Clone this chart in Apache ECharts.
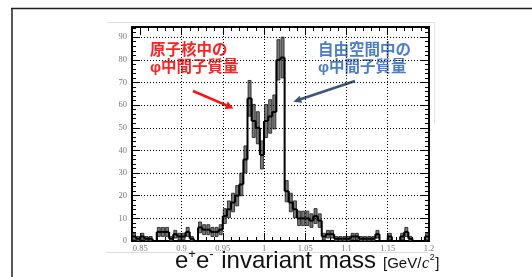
<!DOCTYPE html>
<html>
<head>
<meta charset="utf-8">
<script src="https://cdn.jsdelivr.net/npm/echarts@6/dist/echarts.min.js"></script>
<style>
html, body { margin: 0; padding: 0; background: #fff; }
#chart { width: 532px; height: 277px; }
</style>
</head>
<body>
<div id="chart"></div>
<script>
// histogram bins: lower edge [GeV/c2], width 0.005
const binEdges = [
  0.840, 0.845, 0.850, 0.855, 0.860, 0.865, 0.870, 0.875, 0.880, 0.885,
  0.890, 0.895, 0.900, 0.905, 0.910, 0.915, 0.920, 0.925, 0.930, 0.935,
  0.940, 0.945, 0.950, 0.955, 0.960, 0.965, 0.970, 0.975, 0.980, 0.985,
  0.990, 0.995, 1.000, 1.005, 1.010, 1.015, 1.020, 1.025, 1.030, 1.035,
  1.040, 1.045, 1.050, 1.055, 1.060, 1.065, 1.070, 1.075, 1.080, 1.085,
  1.090, 1.095, 1.100, 1.105, 1.110, 1.115, 1.120, 1.125, 1.130, 1.135,
  1.140, 1.145, 1.150, 1.155, 1.160, 1.165, 1.170, 1.175, 1.180, 1.185,
  1.190, 1.195
]
const binWidth = 0.005

const counts = [
  2, 1, 2, 1, 1, 0, 4, 4, 4, 1,
  3, 2, 2, 4, 1, 0, 6, 5, 5, 4,
  4, 5, 11, 14, 17, 20, 25, 36, 63, 53,
  50, 38, 53, 55, 57, 80, 81, 22, 17, 14,
  10, 10, 10, 9, 11, 9, 2, 3, 3, 1,
  1, 1, 1, 2, 2, 1, 1, 1, 1, 3,
  0, 0, 2, 0, 0, 2, 4, 1, 0, 0,
  0, 2
]

const errors = [
  1.4, 1, 1.4, 1, 1, 0, 2, 2, 2, 1,
  1.7, 1.4, 1.4, 2, 1, 0, 2.4, 2.2, 2.2, 2,
  2, 2.2, 3.3, 3.7, 4.1, 4.5, 5, 6, 7.9, 7.3,
  7.1, 6.2, 7.3, 7.4, 7.5, 8.9, 9, 4.7, 4.1, 3.7,
  3.2, 3.2, 3.2, 3, 3.3, 3, 1.4, 1.7, 1.7, 1,
  1, 1, 1, 1.4, 1.4, 1, 1, 1, 1, 1.7,
  0, 0, 1.4, 0, 0, 1.4, 2, 1, 0, 0,
  0, 1.4
]

const xTicks = [0.85, 0.9, 0.95, 1, 1.05, 1.1, 1.15, 1.2]
const xTickLabels = ['0.85', '0.9', '0.95', '1', '1.05', '1.1', '1.15', '1.2']
const yTicks = [0, 10, 20, 30, 40, 50, 60, 70, 80, 90]
const xGrid = [0.9, 0.95, 1, 1.05, 1.1, 1.15]
const yGrid = [10, 20, 30, 40, 50, 60, 70, 80, 90]

const X_MIN = 0.84, X_MAX = 1.2, Y_MIN = 0, Y_MAX = 94.5

let histData = binEdges.map((lo, i) => [lo, lo + binWidth, counts[i], i > 0 ? counts[i - 1] : counts[i], errors[i]])

function renderBin(params, api) {
   let lo = api.value(0), hi = api.value(1), v = api.value(2), prev = api.value(3), err = api.value(4)
   let pL = api.coord([lo, v])
   let pR = api.coord([hi, v])
   let pPrev = api.coord([lo, prev])
   let mid = (lo + hi) / 2
   let children = []
   if (err > 0) {
      let eTop = api.coord([mid, v + err])
      let eBot = api.coord([mid, Math.max(v - err, 0)])
      children.push({
         type: 'rect',
         shape: { x: eTop[0] - 1.5, y: eTop[1], width: 3, height: eBot[1] - eTop[1] },
         style: { fill: '#777', stroke: '#1a1a1a', lineWidth: 0.8 }
      })
   }
   children.push({
      type: 'line',
      shape: { x1: pL[0], y1: pL[1], x2: pR[0], y2: pR[1] },
      style: { stroke: '#000', lineWidth: 2 }
   })
   if (params.dataIndex > 0) {
      children.push({
         type: 'line',
         shape: { x1: pPrev[0], y1: pPrev[1], x2: pL[0], y2: pL[1] },
         style: { stroke: '#000', lineWidth: 2 }
      })
   }
   return { type: 'group', children: children }
}

const labelFont = { fontFamily: 'Liberation Serif', fontSize: 8.5, color: '#777' }

function minorX(pos) {
   return {
      gridIndex: 0, type: 'value', position: pos, min: X_MIN, max: X_MAX, interval: 0.01,
      axisLine: { show: true, onZero: false, lineStyle: { color: '#000', width: 2 } },
      axisTick: { show: true, inside: true, length: 4, lineStyle: { color: '#000', width: 1 } },
      axisLabel: pos === 'bottom' ? Object.assign({
         show: true, margin: 3,
         formatter: v => {
            let i = xTicks.findIndex(t => Math.abs(t - v) < 1e-6)
            return i < 0 ? '' : xTickLabels[i]
         }
      }, labelFont) : { show: false },
      splitLine: { show: false }
   }
}
function majorX(pos) {
   return {
      gridIndex: 1, type: 'value', position: pos, min: X_MIN, max: X_MAX,
      axisLine: { show: false, onZero: false },
      axisTick: { show: true, inside: true, length: 8, customValues: xTicks, lineStyle: { color: '#000', width: 1 } },
      axisLabel: { show: false },
      splitLine: { show: false }
   }
}
function minorY(pos) {
   return {
      gridIndex: 0, type: 'value', position: pos, min: Y_MIN, max: Y_MAX, interval: 2,
      axisLine: { show: true, onZero: false, lineStyle: { color: '#000', width: 2 } },
      axisTick: { show: true, inside: true, length: 4, lineStyle: { color: '#000', width: 1 } },
      axisLabel: pos === 'left' ? Object.assign({
         show: true, margin: 5,
         formatter: v => yTicks.indexOf(v) >= 0 ? String(v) : ''
      }, labelFont) : { show: false },
      splitLine: { show: false }
   }
}
function majorY(pos) {
   return {
      gridIndex: 1, type: 'value', position: pos, min: Y_MIN, max: Y_MAX,
      axisLine: { show: false, onZero: false },
      axisTick: { show: true, inside: true, length: 8, customValues: yTicks, lineStyle: { color: '#000', width: 1 } },
      axisLabel: { show: false },
      splitLine: { show: false }
   }
}

// x-axis title pieces, laid out left to right on one baseline
const ctx = document.createElement('canvas').getContext('2d')
function textW(font, s) { ctx.font = font; return ctx.measureText(s).width }

const MAIN = '24px "Liberation Sans"'
const SUP = '13px "Liberation Sans"'
const UNIT = '15px "Liberation Sans"'
const CIT = 'italic 16px "Liberation Serif"'
const PW = '9px "Liberation Sans"'
const BASE = 268.5

function titleGraphics() {
   let parts = [
      { s: 'e', font: MAIN, y: BASE - 0.31 * 24 },
      { s: '+', font: SUP, y: 254.5 },
      { s: 'e', font: MAIN, y: BASE - 0.31 * 24 },
      { s: '-', font: SUP, y: 254, pad: 1 },
      { s: ' invariant mass', font: MAIN, y: BASE - 0.31 * 24 }
   ]
   let x = 175
   let out = []
   parts.forEach(p => {
      out.push({ type: 'text', x: x, y: p.y, style: { text: p.s, font: p.font, fill: '#111', align: 'left', verticalAlign: 'middle' } })
      x += textW(p.font, p.s) + (p.pad || 0)
   })
   let units = [
      { s: '[GeV/', font: UNIT, y: BASE - 0.31 * 15 },
      { s: 'c', font: CIT, y: BASE - 0.31 * 16 },
      { s: '2', font: PW, y: 258 },
      { s: ']', font: UNIT, y: BASE - 0.31 * 15 }
   ]
   x = 383
   units.forEach(p => {
      out.push({ type: 'text', x: x, y: p.y, style: { text: p.s, font: p.font, fill: '#111', align: 'left', verticalAlign: 'middle' } })
      x += textW(p.font, p.s) + 0.6
   })
   return out
}

let chart = echarts.init(document.getElementById('chart'), null, { renderer: 'canvas' })

let option = {
   animation: false,
   backgroundColor: '#fff',
   grid: [
      { left: 132, right: 103, top: 27, bottom: 36 },
      { left: 132, right: 103, top: 27, bottom: 36 }
   ],
   xAxis: [minorX('bottom'), minorX('top'), majorX('bottom'), majorX('top')],
   yAxis: [minorY('left'), minorY('right'), majorY('left'), majorY('right')],
   series: [
      {
         // dotted grid
         type: 'line',
         xAxisIndex: 0,
         yAxisIndex: 0,
         data: [],
         z: 1,
         markLine: {
            silent: true,
            symbol: ['none', 'none'],
            label: { show: false },
            lineStyle: { type: [1, 2], color: '#000', width: 1 },
            data: xGrid.map(x => ({ xAxis: x })).concat(yGrid.map(y => ({ yAxis: y })))
         }
      },
      {
         name: 'e+e- invariant mass',
         type: 'custom',
         xAxisIndex: 0,
         yAxisIndex: 0,
         clip: true,
         z: 3,
         renderItem: renderBin,
         encode: { x: [0, 1], y: 2 },
         data: histData
      }
   ],
   graphic: [
      // slide frame
      { type: 'line', shape: { x1: 11, y1: 8.5, x2: 532, y2: 8.5 }, style: { stroke: '#222', lineWidth: 1.5 } },
      { type: 'line', shape: { x1: 12, y1: 8, x2: 12, y2: 277 }, style: { stroke: '#222', lineWidth: 1.5 } },
      // pasted image border
      { type: 'line', shape: { x1: 107, y1: 22.5, x2: 434, y2: 22.5 }, style: { stroke: '#dedede', lineWidth: 1 } },
      { type: 'line', shape: { x1: 434.5, y1: 22, x2: 434.5, y2: 123 }, style: { stroke: '#e4e4e4', lineWidth: 1 } },
      { type: 'line', shape: { x1: 106, y1: 252.5, x2: 428, y2: 252.5 }, style: { stroke: '#dcdcdc', lineWidth: 1 } },
      // annotations
      {
         type: 'text', x: 150, y: 49,
         style: { text: '原子核中の', fill: '#ff2020', font: 'bold 15.5px "Noto Sans CJK JP"', align: 'left', verticalAlign: 'middle' }
      },
      {
         type: 'text', x: 150, y: 68,
         style: { text: 'φ中間子質量', fill: '#ff2020', font: 'bold 15.5px "Liberation Sans", "Noto Sans CJK JP"', align: 'left', verticalAlign: 'middle' }
      },
      {
         type: 'text', x: 318, y: 49,
         style: { text: '自由空間中の', fill: '#4a7cc8', font: 'bold 15.5px "Noto Sans CJK JP"', align: 'left', verticalAlign: 'middle' }
      },
      {
         type: 'text', x: 318, y: 68,
         style: { text: 'φ中間子質量', fill: '#4a7cc8', font: 'bold 15.5px "Liberation Sans", "Noto Sans CJK JP"', align: 'left', verticalAlign: 'middle' }
      },
      // arrows
      { type: 'line', shape: { x1: 193, y1: 91, x2: 226.5, y2: 105.4 }, style: { stroke: '#ff1010', lineWidth: 2.5 } },
      { type: 'polygon', shape: { points: [[233.5, 108.5], [224.6, 109.0], [227.8, 101.6]] }, style: { fill: '#ff1010' } },
      { type: 'line', shape: { x1: 355, y1: 81, x2: 300.5, y2: 99.3 }, style: { stroke: '#3d5577', lineWidth: 2.5 } },
      { type: 'polygon', shape: { points: [[293.3, 101.7], [299.7, 95.7], [302.1, 102.7]] }, style: { fill: '#3d5577' } }
   ].concat(titleGraphics())
}

chart.setOption(option)
</script>
</body>
</html>
